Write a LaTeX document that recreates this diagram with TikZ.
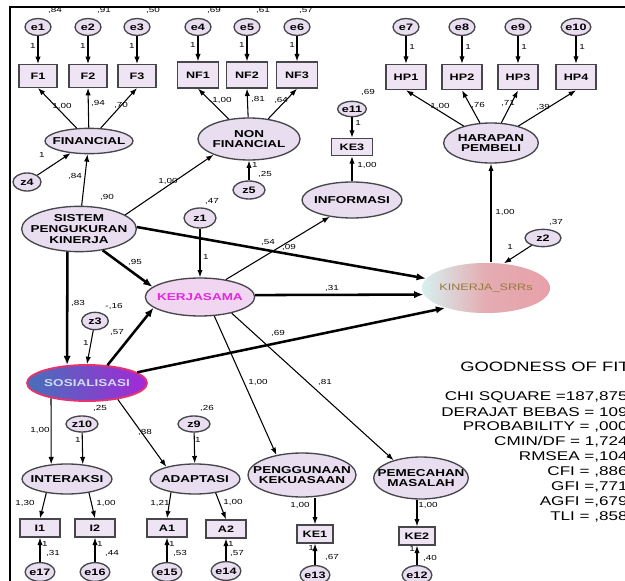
\documentclass[tikz,border=0pt]{standalone}
\usepackage{fontspec}
\setmainfont{Liberation Sans}[FakeStretch=1.35]
\usetikzlibrary{shapes.geometric,arrows.meta}
\definecolor{latfill}{RGB}{232,222,240}
\definecolor{boxfill}{RGB}{238,228,243}
\definecolor{edge}{RGB}{70,70,75}
\definecolor{kerfill}{RGB}{240,214,240}
\definecolor{kertext}{RGB}{228,40,220}
\definecolor{sosleft}{RGB}{70,112,185}
\definecolor{sosright}{RGB}{165,40,215}
\definecolor{sosedge}{RGB}{232,50,110}
\definecolor{sostext}{RGB}{205,220,245}
\definecolor{kinleft}{RGB}{215,240,240}
\definecolor{kinmid}{RGB}{228,172,178}
\definecolor{kinright}{RGB}{232,160,168}
\definecolor{kintext}{RGB}{150,120,60}
\begin{document}
\begin{tikzpicture}[x=0.75pt,y=-0.75pt,>={Latex[length=5.5pt,width=4pt]},
  err/.style={ellipse,draw=edge,line width=1pt,fill=latfill,inner sep=0pt,minimum width=19.5pt,minimum height=12.75pt,font=\fontsize{7}{7}\selectfont\bfseries},
  obs/.style={rectangle,draw=edge,line width=1pt,fill=boxfill,inner sep=0pt,minimum width=29pt,minimum height=17pt,font=\fontsize{7}{7}\selectfont\bfseries},
  lat/.style={ellipse,draw=edge,line width=1pt,fill=latfill,inner sep=0pt},
  lbl/.style={font=\fontsize{7.5}{8}\selectfont\bfseries,align=center,inner sep=0pt},
  est/.style={font=\fontsize{5.5}{6}\selectfont,inner sep=0pt},
  gof/.style={font=\fontsize{9.5}{10}\selectfont,inner sep=0pt},
  load/.style={->,line width=0.8pt},
  causal/.style={-{Latex[length=7pt,width=5.5pt]},line width=1.9pt}]
\useasboundingbox (0,0) rectangle (625,581);
\fill[white] (0,0) rectangle (625,581);

\node[est] at (55,10) {,84};
\node[est] at (104,10) {,91};
\node[est] at (153,10) {,50};
\node[est] at (214,10) {,69};
\node[est] at (263,10) {,61};
\node[est] at (306,10) {,57};
\fill[white] (0,0) rectangle (625,7);
\draw[line width=1pt] (10,581) -- (10,7) -- (625,7);

\node[err] (e1) at (38,27) {e1};
\node[err] (e2) at (88,27) {e2};
\node[err] (e3) at (137,27) {e3};
\node[err] (e4) at (198,27) {e4};
\node[err] (e5) at (247,27) {e5};
\node[err] (e6) at (297,27) {e6};
\node[err] (e7) at (406,27) {e7};
\node[err] (e8) at (462,27) {e8};
\node[err] (e9) at (518,27) {e9};
\node[err] (e10) at (576,27) {e10};
\node[obs,minimum width=28.5pt] (f1) at (38,76) {F1};
\node[obs,minimum width=28.5pt] (f2) at (88,76) {F2};
\node[obs,minimum width=28.5pt] (f3) at (137,76) {F3};
\node[obs,minimum width=31pt,minimum height=19.5pt] (nf1) at (198,75) {NF1};
\node[obs,minimum width=31pt,minimum height=19.5pt] (nf2) at (247,75) {NF2};
\node[obs,minimum width=31pt,minimum height=19.5pt] (nf3) at (297,75) {NF3};
\node[obs,minimum width=30pt,minimum height=19pt] (hp1) at (406,77) {HP1};
\node[obs,minimum width=30pt,minimum height=19pt] (hp2) at (462,77) {HP2};
\node[obs,minimum width=30pt,minimum height=19pt] (hp3) at (518,77) {HP3};
\node[obs,minimum width=30pt,minimum height=19pt] (hp4) at (576,77) {HP4};

\node[lat,minimum width=66pt,minimum height=19pt,label={[lbl]center:FINANCIAL}] (fin) at (89,141) {};
\node[lat,minimum width=76.5pt,minimum height=31.5pt,label={[lbl]center:NON\\FINANCIAL}] (nf) at (249,139) {};
\node[lat,minimum width=71pt,minimum height=30pt,label={[lbl]center:HARAPAN\\PEMBELI}] (hp) at (491,143) {};
\node[err,minimum width=21pt,minimum height=13.5pt] (z4) at (27,182) {z4};
\node[err,minimum width=24pt,minimum height=13.5pt] (z5) at (249,190) {z5};
\node[err,minimum width=20pt,minimum height=11.5pt] (e11) at (352,109) {e11};
\node[obs,minimum width=31pt,minimum height=13pt] (ke3) at (352,147) {KE3};
\node[lat,minimum width=75pt,minimum height=27pt,label={[lbl]center:INFORMASI}] (inf) at (352,200) {};

\node[lat,minimum width=86pt,minimum height=34pt,label={[lbl]center:SISTEM\\PENGUKURAN\\KINERJA}] (sis) at (79,229) {};
\node[err,minimum width=24pt,minimum height=15pt] (z1) at (200,218) {z1};
\node[lat,fill=kerfill,minimum width=82pt,minimum height=28.5pt,label={[lbl,text=kertext]center:KERJASAMA}] (ker) at (200,297) {};
\node[err,minimum width=20pt,minimum height=13pt] (z3) at (95,321) {z3};
\node[lat,draw=sosedge,line width=1.4pt,left color=sosleft,right color=sosright,minimum width=90pt,minimum height=27pt,label={[lbl,text=sostext]center:SOSIALISASI}] (sos) at (87,383) {};
\node[lat,draw=none,left color=kinleft,right color=kinright,middle color=kinmid,minimum width=96pt,minimum height=37.5pt,label={[lbl,font=\fontsize{7}{8}\selectfont,text=kintext]center:KINERJA\_SRRs}] (kin) at (486,288) {};
\node[err,minimum width=27pt,minimum height=13pt] (z2) at (543,238) {z2};

\node[err,minimum width=24pt,minimum height=12pt] (z10) at (82,424) {z10};
\node[err,minimum width=24pt,minimum height=12pt] (z9) at (194,424) {z9};
\node[lat,minimum width=67.5pt,minimum height=22.5pt,label={[lbl]center:INTERAKSI}] (int) at (67,479) {};
\node[lat,minimum width=67.5pt,minimum height=22.5pt,label={[lbl]center:ADAPTASI}] (ada) at (195,479) {};
\node[lat,minimum width=81pt,minimum height=33pt,label={[lbl]center:PENGGUNAAN\\KEKUASAAN}] (pen) at (302,475) {};
\node[lat,minimum width=71pt,minimum height=31.5pt,label={[lbl]center:PEMECAHAN\\MASALAH}] (pem) at (421,478) {};
\node[obs,minimum width=30pt,minimum height=13.5pt] (i1) at (40,528) {I1};
\node[obs,minimum width=30pt,minimum height=13.5pt] (i2) at (95,528) {I2};
\node[obs,minimum width=30pt,minimum height=13.5pt] (a1) at (167,528) {A1};
\node[obs,minimum width=30pt,minimum height=13.5pt] (a2) at (226,529) {A2};
\node[obs,minimum width=27pt,minimum height=13.5pt] (ke1) at (315,534) {KE1};
\node[obs,minimum width=27pt,minimum height=13.5pt] (ke2) at (417,536) {KE2};
\node[err,minimum width=21pt,minimum height=14pt] (e17) at (40,572) {e17};
\node[err,minimum width=21pt,minimum height=14pt] (e16) at (95,572) {e16};
\node[err,minimum width=21pt,minimum height=14pt] (e15) at (167,572) {e15};
\node[err,minimum width=21pt,minimum height=14pt] (e14) at (226,571) {e14};
\node[err,minimum width=21pt,minimum height=14pt] (e13) at (315,575) {e13};
\node[err,minimum width=21pt,minimum height=14pt] (e12) at (417,575) {e12};

\draw[load] (e1) -- (f1); \draw[load] (e2) -- (f2); \draw[load] (e3) -- (f3);
\draw[load] (e4) -- (nf1); \draw[load] (e5) -- (nf2); \draw[load] (e6) -- (nf3);
\draw[load] (e7) -- (hp1); \draw[load] (e8) -- (hp2); \draw[load] (e9) -- (hp3); \draw[load] (e10) -- (hp4);
\draw[load] (fin) -- (f1.south); \draw[load] (fin) -- (f2.south); \draw[load] (fin) -- (f3.south);
\draw[load] (nf) -- (nf1.south); \draw[load] (nf) -- (nf2.south); \draw[load] (nf) -- (nf3.south);
\draw[load] (hp) -- (hp1.south); \draw[load] (hp) -- (hp2.south); \draw[load] (hp) -- (hp3.south); \draw[load] (hp) -- (hp4.south);
\draw[load] (z4) -- (fin); \draw[load] (z5) -- (nf);
\draw[load] (e11) -- (ke3); \draw[load] (inf) -- (ke3);
\draw[load] (sis) -- (fin); \draw[load] (sis.17) -- (nf.204);
\draw[load] (ker.34) -- (inf.217);
\draw[load] (z1) -- (ker); \draw[load] (z3) -- (sos.north); \draw[load] (z2) -- (kin.54);
\draw[load] (hp.south |- kin.north) -- (hp.south);
\draw[causal] (sis.2) -- (kin.171);
\draw[causal] (sis.318) -- (ker.168);
\draw[causal] (sis.243) -- (sos.138);
\draw[causal] (sos.41) -- (ker.193);
\draw[causal] (ker.2) -- (kin.186);
\draw[causal] (sos.12) -- (kin.206);
\draw[load] (ker.307) -- (pen.142); \draw[load] (ker.333) -- (pem.147);
\draw[load] (sos.203) -- (int.137); \draw[load] (sos.332) -- (ada.157);
\draw[load] (z10) -- (int.43); \draw[load] (z9) -- (ada);
\draw[load] (int.214) -- (i1.north); \draw[load] (int.328) -- (i2.north);
\draw[load] (ada.209) -- (a1.north); \draw[load] (ada.326) -- (a2.north);
\draw[load] (pen.south -| ke1.north) -- (ke1.north); \draw[load] (pem.south -| ke2.north) -- (ke2.north);
\draw[load] (e17) -- (i1); \draw[load] (e16) -- (i2); \draw[load] (e15) -- (a1); \draw[load] (e14) -- (a2);
\draw[load] (e13) -- (ke1); \draw[load] (e12) -- (ke2);

\node[est] at (33,46) {1}; \node[est] at (83,46) {1}; \node[est] at (132,46) {1};
\node[est] at (193,45) {1}; \node[est] at (242,45) {1}; \node[est] at (292,45) {1};
\node[est] at (412,47) {1}; \node[est] at (468,47) {1}; \node[est] at (524,47) {1}; \node[est] at (582,47) {1};
\node[est] at (62,106) {1,00}; \node[est] at (98,103) {,94}; \node[est] at (121,105) {,70};
\node[est] at (222,100) {1,00}; \node[est] at (258,99) {,81}; \node[est] at (281,100) {,64};
\node[est] at (440,106) {1,00}; \node[est] at (478,105) {,76}; \node[est] at (508,103) {,71}; \node[est] at (543,107) {,39};
\node[est] at (42,155) {1}; \node[est] at (75,176) {,84}; \node[est] at (107,197) {,90};
\node[est] at (168,181) {1,00};
\node[est] at (255,165) {1}; \node[est] at (265,174) {,25};
\node[est] at (368,92) {,69}; \node[est] at (358,123) {1}; \node[est] at (367,165) {1,00};
\node[est] at (212,201) {,47}; \node[est] at (206,257) {1};
\node[est] at (135,262) {,95}; \node[est] at (78,303) {,83};
\node[est] at (114,306) {-,16}; \node[est] at (117,332) {,57}; \node[est] at (86,343) {1};
\node[est] at (268,242) {,54}; \node[est] at (289,247) {,09};
\node[est] at (332,288) {,31}; \node[est] at (278,333) {,69};
\node[est] at (505,212) {1,00}; \node[est] at (556,222) {,37}; \node[est] at (510,247) {1};
\node[est] at (40,430) {1,00}; \node[est] at (100,408) {,25}; \node[est] at (78,440) {1};
\node[est] at (207,408) {,26}; \node[est] at (198,440) {1}; \node[est] at (145,432) {,88};
\node[est] at (258,382) {1,00}; \node[est] at (325,382) {,81};
\node[est] at (25,503) {1,30}; \node[est] at (106,503) {1,00};
\node[est] at (160,503) {1,21}; \node[est] at (233,502) {1,00};
\node[est] at (300,505) {1,00}; \node[est] at (428,505) {1,00};
\node[est] at (45,544) {1}; \node[est] at (53,553) {,31};
\node[est] at (100,544) {1}; \node[est] at (112,553) {,44};
\node[est] at (172,544) {1}; \node[est] at (180,553) {,53};
\node[est] at (231,544) {1}; \node[est] at (237,553) {,57};
\node[est] at (311,548) {1}; \node[est] at (332,557) {,67};
\node[est] at (412,549) {1}; \node[est] at (430,558) {,40};

\node[gof,font=\fontsize{10.2}{11}\selectfont,anchor=west] at (460,367) {GOODNESS OF FIT};
\node[gof,anchor=east] at (628,397) {CHI SQUARE =187,875};
\node[gof,anchor=east] at (628,412) {DERAJAT BEBAS = 109};
\node[gof,anchor=east] at (628,427) {PROBABILITY = ,000};
\node[gof,anchor=east] at (628,442) {CMIN/DF = 1,724};
\node[gof,anchor=east] at (628,457) {RMSEA =,104};
\node[gof,anchor=east] at (628,472) {CFI = ,886};
\node[gof,anchor=east] at (628,487) {GFI =,771};
\node[gof,anchor=east] at (628,502) {AGFI =,679};
\node[gof,anchor=east] at (628,517) {TLI = ,858};
\end{tikzpicture}
\end{document}
